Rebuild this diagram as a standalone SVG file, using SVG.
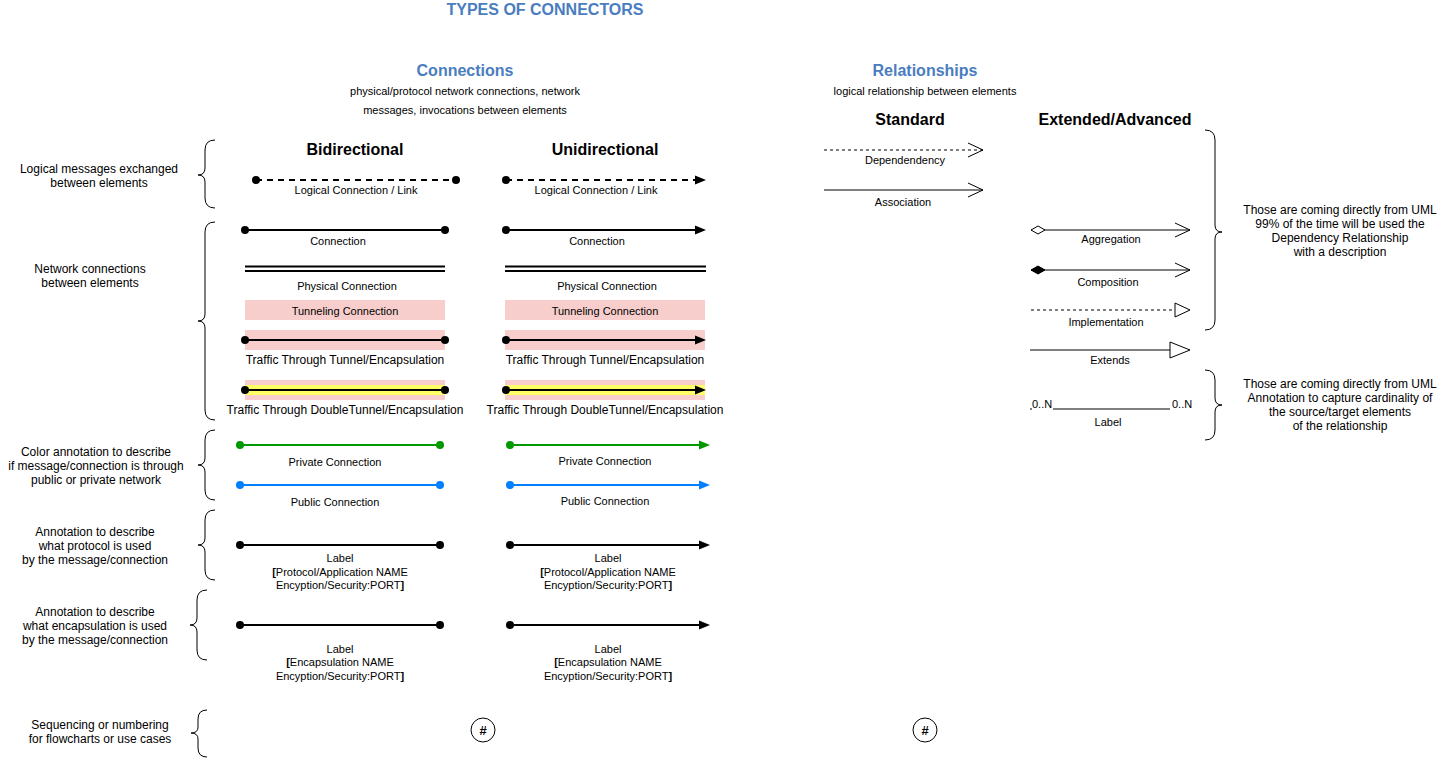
<svg xmlns="http://www.w3.org/2000/svg" width="1446" height="758" viewBox="0 0 1446 758">
<style>
text{font-family:"Liberation Sans",Arial,Helvetica,sans-serif;fill:#000}
.h{font-weight:bold;font-size:16px;text-anchor:middle}
.blue{fill:#4A7DC0}
.l11{font-size:11px;text-anchor:middle}
.l12{font-size:12px;text-anchor:middle}
.s11{font-size:11px;text-anchor:start}
.k{stroke:#000;stroke-width:2;fill:none}
.dash{stroke-dasharray:6 5}
.g{stroke:#009900;stroke-width:2;fill:none}
.b{stroke:#007FFF;stroke-width:2;fill:none}
.thin{stroke:#000;stroke-width:1;fill:none}
.brace{stroke:#000;stroke-width:1;fill:none}
.pink{fill:#F8CECC}
.yel{fill:#FFFF66}
</style>
<defs>
<marker id="dotK" markerUnits="userSpaceOnUse" markerWidth="10" markerHeight="10" refX="5" refY="5" viewBox="0 0 10 10"><circle cx="5" cy="5" r="4" fill="#000"/></marker>
<marker id="dotG" markerUnits="userSpaceOnUse" markerWidth="10" markerHeight="10" refX="5" refY="5" viewBox="0 0 10 10"><circle cx="5" cy="5" r="4" fill="#009900"/></marker>
<marker id="dotB" markerUnits="userSpaceOnUse" markerWidth="10" markerHeight="10" refX="5" refY="5" viewBox="0 0 10 10"><circle cx="5" cy="5" r="4" fill="#007FFF"/></marker>
<marker id="arrK" markerUnits="userSpaceOnUse" markerWidth="12" markerHeight="10" refX="5" refY="5" viewBox="0 0 12 10" orient="auto"><path d="M0,0.5 L11,5 L0,9.5 Z" fill="#000"/></marker>
<marker id="arrG" markerUnits="userSpaceOnUse" markerWidth="12" markerHeight="10" refX="5" refY="5" viewBox="0 0 12 10" orient="auto"><path d="M0,0.5 L11,5 L0,9.5 Z" fill="#009900"/></marker>
<marker id="arrB" markerUnits="userSpaceOnUse" markerWidth="12" markerHeight="10" refX="5" refY="5" viewBox="0 0 12 10" orient="auto"><path d="M0,0.5 L11,5 L0,9.5 Z" fill="#007FFF"/></marker>
<marker id="chev" markerUnits="userSpaceOnUse" markerWidth="20" markerHeight="20" refX="17" refY="10" viewBox="0 0 20 20" orient="auto"><path d="M2,3 L17,10 L2,17" fill="none" stroke="#000" stroke-width="1"/></marker>
<marker id="tri" markerUnits="userSpaceOnUse" markerWidth="20" markerHeight="20" refX="1" refY="10" viewBox="0 0 20 20" orient="auto"><path d="M1,3 L16,10 L1,17 Z" fill="#fff" stroke="#000" stroke-width="1"/></marker>
<marker id="triBig" markerUnits="userSpaceOnUse" markerWidth="24" markerHeight="20" refX="1" refY="10" viewBox="0 0 24 20" orient="auto"><path d="M1,2 L21,10 L1,18 Z" fill="#fff" stroke="#000" stroke-width="1"/></marker>
<marker id="diaO" markerUnits="userSpaceOnUse" markerWidth="18" markerHeight="12" refX="1" refY="6" viewBox="0 0 18 12" orient="auto"><path d="M1,6 L8,2 L15,6 L8,10 Z" fill="#fff" stroke="#000" stroke-width="1"/></marker>
<marker id="diaF" markerUnits="userSpaceOnUse" markerWidth="18" markerHeight="12" refX="1" refY="6" viewBox="0 0 18 12" orient="auto"><path d="M1,6 L8,2 L15,6 L8,10 Z" fill="#000" stroke="#000" stroke-width="1"/></marker>
</defs>
<rect width="1446" height="758" fill="#fff"/>

<g id="headers">
<text class="h blue" x="545" y="15">TYPES OF CONNECTORS</text>
<text class="h blue" x="465" y="76">Connections</text>
<text class="l11" x="465" y="95">physical/protocol network connections, network</text>
<text class="l11" x="465" y="114">messages, invocations between elements</text>
<text class="h blue" x="925" y="76">Relationships</text>
<text class="l11" x="925" y="95">logical relationship between elements</text>
<text class="h" x="910" y="125">Standard</text>
<text class="h" x="1115" y="125">Extended/Advanced</text>
<text class="h" x="355" y="155">Bidirectional</text>
<text class="h" x="605" y="155">Unidirectional</text>
</g>

<g id="annotations">
<path class="brace" d="M215,140 Q205,140 205,150 L205,168 Q205,175 198,175 Q205,175 205,182 L205,198 Q205,208 215,208"/>
<text class="l12" x="99" y="173">Logical messages exchanged</text>
<text class="l12" x="99" y="187">between elements</text>
<path class="brace" d="M215,222 Q205,222 205,232 L205,314 Q205,321 198,321 Q205,321 205,328 L205,410 Q205,420 215,420"/>
<text class="l12" x="90" y="273">Network connections</text>
<text class="l12" x="90" y="287">between elements</text>
<path class="brace" d="M215,430 Q205,430 205,440 L205,458 Q205,465 198,465 Q205,465 205,472 L205,490 Q205,500 215,500"/>
<text class="l12" x="96" y="456">Color annotation to describe</text>
<text class="l12" x="96" y="470">if message/connection is through</text>
<text class="l12" x="96" y="484">public or private network</text>
<path class="brace" d="M215,510 Q205,510 205,520 L205,538 Q205,545 198,545 Q205,545 205,552 L205,570 Q205,580 215,580"/>
<text class="l12" x="95" y="536">Annotation to describe</text>
<text class="l12" x="95" y="550">what protocol is used</text>
<text class="l12" x="95" y="564">by the message/connection</text>
<path class="brace" d="M207,590 Q197,590 197,600 L197,618 Q197,625 190,625 Q197,625 197,632 L197,650 Q197,660 207,660"/>
<text class="l12" x="95" y="616">Annotation to describe</text>
<text class="l12" x="95" y="630">what encapsulation is used</text>
<text class="l12" x="95" y="644">by the message/connection</text>
<path class="brace" d="M207,710 Q198,710 198,719 L198,727 Q198,733 191,733 Q198,733 198,739 L198,748 Q198,757 207,757"/>
<text class="l12" x="100" y="729">Sequencing or numbering</text>
<text class="l12" x="100" y="743">for flowcharts or use cases</text>
<path class="brace" d="M1205,130 Q1215,130 1215,140 L1215,225 Q1215,232 1222,232 Q1215,232 1215,239 L1215,320 Q1215,330 1205,330"/>
<text class="l12" x="1340" y="214">Those are coming directly from UML</text>
<text class="l12" x="1340" y="228">99% of the time will be used the</text>
<text class="l12" x="1340" y="242">Dependency Relationship</text>
<text class="l12" x="1340" y="256">with a description</text>
<path class="brace" d="M1205,370 Q1215,370 1215,380 L1215,398 Q1215,405 1222,405 Q1215,405 1215,412 L1215,430 Q1215,440 1205,440"/>
<text class="l12" x="1340" y="388">Those are coming directly from UML</text>
<text class="l12" x="1340" y="402">Annotation to capture cardinality of</text>
<text class="l12" x="1340" y="416">the source/target elements</text>
<text class="l12" x="1340" y="430">of the relationship</text>
</g>

<g id="tunnels">
<rect class="pink" x="245" y="300" width="200" height="20"/>
<rect class="pink" x="505" y="300" width="200" height="20"/>
<rect class="pink" x="245" y="330" width="200" height="20"/>
<rect class="pink" x="505" y="330" width="200" height="20"/>
<rect class="pink" x="245" y="380" width="200" height="20"/>
<rect class="yel" x="245" y="385" width="200" height="10"/>
<rect class="pink" x="505" y="380" width="200" height="20"/>
<rect class="yel" x="505" y="385" width="200" height="10"/>
</g>

<g id="connectors">
<line class="k dash" x1="256" y1="180" x2="456" y2="180" marker-start="url(#dotK)" marker-end="url(#dotK)"/>
<line class="k dash" x1="506" y1="180" x2="700" y2="180" marker-start="url(#dotK)" marker-end="url(#arrK)"/>
<line class="k" x1="245" y1="230" x2="445" y2="230" marker-start="url(#dotK)" marker-end="url(#dotK)"/>
<line class="k" x1="506" y1="230" x2="700" y2="230" marker-start="url(#dotK)" marker-end="url(#arrK)"/>
<line class="k" x1="245" y1="266.5" x2="445" y2="266.5" stroke-width="1.5"/>
<line class="k" x1="245" y1="271" x2="445" y2="271" stroke-width="1.5"/>
<line class="k" x1="505" y1="266.5" x2="706" y2="266.5" stroke-width="1.5"/>
<line class="k" x1="505" y1="271" x2="706" y2="271" stroke-width="1.5"/>
<line class="k" x1="245" y1="340" x2="445" y2="340" marker-start="url(#dotK)" marker-end="url(#dotK)"/>
<line class="k" x1="506" y1="340" x2="700" y2="340" marker-start="url(#dotK)" marker-end="url(#arrK)"/>
<line class="k" x1="245" y1="390" x2="445" y2="390" marker-start="url(#dotK)" marker-end="url(#dotK)"/>
<line class="k" x1="506" y1="390" x2="700" y2="390" marker-start="url(#dotK)" marker-end="url(#arrK)"/>
<line class="g" x1="240" y1="445" x2="440" y2="445" marker-start="url(#dotG)" marker-end="url(#dotG)"/>
<line class="g" x1="510" y1="445" x2="704" y2="445" marker-start="url(#dotG)" marker-end="url(#arrG)"/>
<line class="b" x1="240" y1="485" x2="440" y2="485" marker-start="url(#dotB)" marker-end="url(#dotB)"/>
<line class="b" x1="510" y1="485" x2="704" y2="485" marker-start="url(#dotB)" marker-end="url(#arrB)"/>
<line class="k" x1="240" y1="545" x2="440" y2="545" marker-start="url(#dotK)" marker-end="url(#dotK)"/>
<line class="k" x1="510" y1="545" x2="704" y2="545" marker-start="url(#dotK)" marker-end="url(#arrK)"/>
<line class="k" x1="240" y1="625" x2="440" y2="625" marker-start="url(#dotK)" marker-end="url(#dotK)"/>
<line class="k" x1="510" y1="625" x2="704" y2="625" marker-start="url(#dotK)" marker-end="url(#arrK)"/>

<line class="thin" x1="824" y1="150" x2="983" y2="150" stroke-dasharray="3 3" marker-end="url(#chev)"/>
<line class="thin" x1="824" y1="190" x2="983" y2="190" marker-end="url(#chev)"/>
<line class="thin" x1="1031" y1="230" x2="1190" y2="230" marker-start="url(#diaO)" marker-end="url(#chev)"/>
<line class="thin" x1="1031" y1="270" x2="1190" y2="270" marker-start="url(#diaF)" marker-end="url(#chev)"/>
<line class="thin" x1="1031" y1="310" x2="1175" y2="310" stroke-dasharray="3 3" marker-end="url(#tri)"/>
<line class="thin" x1="1030" y1="350" x2="1170" y2="350" marker-end="url(#triBig)"/>
<line class="thin" x1="1030" y1="409" x2="1170" y2="409"/>
</g>

<g id="labels">
<text class="l11" x="356" y="194">Logical Connection / Link</text>
<text class="l11" x="596" y="194">Logical Connection / Link</text>
<text class="l11" x="338" y="245">Connection</text>
<text class="l11" x="597" y="245">Connection</text>
<text class="l11" x="347" y="290">Physical Connection</text>
<text class="l11" x="607" y="290">Physical Connection</text>
<text class="l11" x="345" y="315">Tunneling Connection</text>
<text class="l11" x="605" y="315">Tunneling Connection</text>
<text class="l12" x="345" y="364">Traffic Through Tunnel/Encapsulation</text>
<text class="l12" x="605" y="364">Traffic Through Tunnel/Encapsulation</text>
<text class="l12" x="345" y="414">Traffic Through DoubleTunnel/Encapsulation</text>
<text class="l12" x="605" y="414">Traffic Through DoubleTunnel/Encapsulation</text>
<text class="l11" x="335" y="466">Private Connection</text>
<text class="l11" x="605" y="465">Private Connection</text>
<text class="l11" x="335" y="506">Public Connection</text>
<text class="l11" x="605" y="505">Public Connection</text>
<text class="l11" x="340" y="562">Label</text>
<text class="l11" x="340" y="576"><tspan font-weight="bold">[</tspan>Protocol/Application NAME</text>
<text class="l11" x="340" y="589">Encyption/Security:PORT<tspan font-weight="bold">]</tspan></text>
<text class="l11" x="608" y="562">Label</text>
<text class="l11" x="608" y="576"><tspan font-weight="bold">[</tspan>Protocol/Application NAME</text>
<text class="l11" x="608" y="589">Encyption/Security:PORT<tspan font-weight="bold">]</tspan></text>
<text class="l11" x="340" y="653">Label</text>
<text class="l11" x="340" y="666"><tspan font-weight="bold">[</tspan>Encapsulation NAME</text>
<text class="l11" x="340" y="680">Encyption/Security:PORT<tspan font-weight="bold">]</tspan></text>
<text class="l11" x="608" y="653">Label</text>
<text class="l11" x="608" y="666"><tspan font-weight="bold">[</tspan>Encapsulation NAME</text>
<text class="l11" x="608" y="680">Encyption/Security:PORT<tspan font-weight="bold">]</tspan></text>

<text class="l11" x="905" y="164">Dependendency</text>
<text class="l11" x="903" y="206">Association</text>
<text class="l11" x="1111" y="243">Aggregation</text>
<text class="l11" x="1108" y="286">Composition</text>
<text class="l11" x="1106" y="326">Implementation</text>
<text class="l11" x="1110" y="364">Extends</text>
<rect x="1032" y="398" width="21" height="12" fill="#fff"/>
<text class="s11" x="1032" y="408">0..N</text>
<text class="s11" x="1172" y="408">0..N</text>
<text class="l11" x="1108" y="426">Label</text>
</g>

<g id="seq1">
<circle cx="483" cy="730" r="12" fill="#fff" stroke="#000" stroke-width="1"/>
<text x="483" y="735" font-size="13" font-weight="bold" text-anchor="middle">#</text>
</g>
<g id="seq2">
<circle cx="925" cy="730" r="12" fill="#fff" stroke="#000" stroke-width="1"/>
<text x="925" y="735" font-size="13" font-weight="bold" text-anchor="middle">#</text>
</g>
</svg>
